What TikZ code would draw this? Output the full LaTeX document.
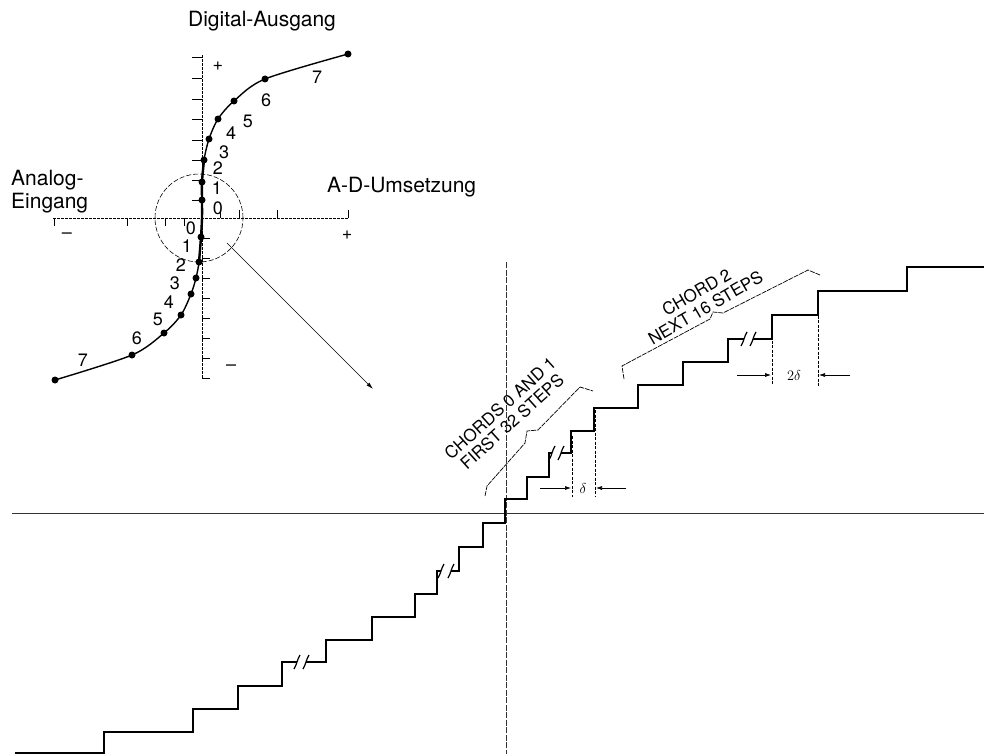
\documentclass[tikz,border=0pt]{standalone}
\usepackage{fontspec}
\setmainfont{TeX Gyre Heros}
\usetikzlibrary{arrows.meta}
\begin{document}
\begin{tikzpicture}[x=1pt,y=-1pt,
  stair/.style={line width=2.4pt, line join=miter},
  mainaxis/.style={line width=0.6pt, black!80},
  vaxis/.style={line width=0.6pt, black!80, dash pattern=on 6pt off 1.5pt},
  smallaxis/.style={line width=0.6pt, dash pattern=on 3pt off 1pt},
  tick/.style={line width=0.7pt},
  dimline/.style={line width=0.6pt, dash pattern=on 3pt off 1.5pt},
  dimarrow/.style={line width=0.6pt, -{Latex[length=6pt,width=4pt]}},
  brk/.style={line width=1.2pt},
  bracket/.style={line width=0.7pt, dash pattern=on 5pt off 1pt},
  lbl/.style={font=\fontsize{21}{23}\selectfont, inner sep=0pt},
  sign/.style={font=\fontsize{18}{18}\selectfont, inner sep=0pt},
  num/.style={font=\fontsize{18}{18}\selectfont, inner sep=0pt},
  chordlbl/.style={font=\fontsize{17}{18}\selectfont, align=center, inner sep=0pt},
  dimlbl/.style={font=\fontsize{15}{15}\selectfont, inner sep=0pt},
  dot/.style={circle, fill, inner sep=0pt, minimum size=7pt},
]
\path[use as bounding box] (0,0) rectangle (984,754);

% ---------- main axes of the transfer characteristic ----------
\coordinate (hl) at (12,513);
\coordinate (hr) at (984,513);
\coordinate (vt) at (506,262);
\coordinate (vb) at (506,754);
\draw[mainaxis] (hl) -- (hr);
\draw[vaxis] (vt) -- (vb);

% ---------- staircase ----------
\draw[stair] (15,753) -| (104,732) -| (193,709) -| (238,686) -| (282,662) -- (297,662);
\draw[stair] (306,662) -| (326,640) -| (372,617) -| (415,594) -| (437,571) -- (441,571);
\draw[stair] (451,571) -| (459,547) -| (483,523) -| (505,499) -| (527,477) -| (549,453) -- (552,453);
\draw[stair] (561,453) -| (571,431) -| (594,408) -| (638,385) -| (683,362) -| (728,339) -- (744,339);
\draw[stair] (753,339) -| (772,315) -| (818,291) -| (907,267) -- (984,267);

% break marks
\foreach \x/\y in {297/662, 306/662, 441/571, 451/571, 552/453, 561/453, 744/339, 753/339}
  \draw[brk] (\x-3,\y+7) .. controls (\x,\y+2) and (\x,\y-2) .. (\x+3,\y-7);

% ---------- step width dimensions ----------
\coordinate (d1a) at (572,436);
\coordinate (d1b) at (572,497);
\coordinate (d2a) at (595,410);
\coordinate (d2b) at (595,497);
\draw[dimline] (d1a) -- (d1b);
\draw[dimline] (d2a) -- (d2b);
\coordinate (a1s) at (540,488);
\coordinate (a1e) at (571,488);
\coordinate (a2s) at (626,488);
\coordinate (a2e) at (596,488);
\draw[dimarrow] (a1s) -- (a1e);
\draw[dimarrow] (a2s) -- (a2e);
\node[dimlbl] (dl) at (583,488) {$\delta$};

\coordinate (e1a) at (772,318);
\coordinate (e1b) at (772,385);
\coordinate (e2a) at (818,293);
\coordinate (e2b) at (818,386);
\draw[dimline] (e1a) -- (e1b);
\draw[dimline] (e2a) -- (e2b);
\coordinate (b1s) at (737,375);
\coordinate (b1e) at (771,375);
\coordinate (b2s) at (850,375);
\coordinate (b2e) at (819,375);
\draw[dimarrow] (b1s) -- (b1e);
\draw[dimarrow] (b2s) -- (b2e);
\node[dimlbl] (dl2) at (794,375) {$2\delta$};

% ---------- chord brackets ----------
\draw[bracket] (485,496) -- (487,486) -- (525,443) -- (527,431) -- (538,430) -- (580,387) -- (593,391);
\node[chordlbl, rotate=42] (c01) at (506,415) {CHORDS 0 AND 1\\FIRST 32 STEPS};

\draw[bracket] (624,379) -- (622,366) -- (710,319) -- (713,312) -- (723,313) -- (808,270) -- (820,275);
\node[chordlbl, rotate=30] (c2) at (701,300) {CHORD 2\\NEXT 16 STEPS};

% ---------- companding characteristic (upper left) ----------
\coordinate (o) at (202,218);
\coordinate (xl) at (53,218);
\coordinate (xr) at (348,218);
\coordinate (yt) at (202,55);
\coordinate (yb) at (202,378);
\draw[smallaxis] (xl) -- (xr);
\draw[smallaxis] (yt) -- (yb);
\foreach \x in {54,127,165,184} \draw[tick] (\x,218) -- (\x,226);
\foreach \x in {220,239,277,348} \draw[tick] (\x,218) -- (\x,210);
\foreach \y in {57,78,99,119,140,160,180,200} \draw[tick] (192,\y) -- (202,\y);
\foreach \y in {238,258,278,298,318,338,358,378} \draw[tick] (202,\y) -- (210,\y);

\node[sign] (pu) at (218,66) {+};
\node[sign] (pr) at (347,235) {+};
\node[sign] (ml) at (67,236) {--};
\node[sign] (mb) at (231,368) {--};

% curve
\draw[line width=1.4pt] plot[smooth, tension=0.5] coordinates {(55,380) (132,355) (164,333) (181,315) (191,294) (196,278) (199,262) (201,237) (202,218) (202,200) (202,182) (204,160) (209,139) (218,119) (234,101) (265,79) (348,54)};
\draw[line width=2.4pt] plot[smooth, tension=0.5] coordinates {(199,262) (201,237) (202,218) (202,200) (202,182) (204,160)};

% segment end points
\foreach \n/\x/\y in {u0/202/200, u1/202/182, u2/204/160, u3/209/139, u4/218/119, u5/234/101, u6/265/79, u7/348/54,
                      l0/201/237, l1/199/262, l2/196/278, l3/191/294, l4/181/315, l5/164/333, l6/132/355, l7/55/380}
  \node[dot] (\n) at (\x,\y) {};

% segment numbers
\foreach \t/\x/\y in {0/218/208, 1/217/188, 2/218/168, 3/224/152, 4/231/133, 5/248/121, 6/266/100, 7/317/77}
  \node[num] at (\x,\y) {\t};
\foreach \t/\x/\y in {0/191/228, 1/187/246, 2/181/265, 3/175/283, 4/169/302, 5/158/319, 6/137/338, 7/83/360}
  \node[num] at (\x,\y) {\t};

% magnified region
\node[draw, circle, line width=0.6pt, dash pattern=on 5pt off 2pt, minimum size=88pt, inner sep=0pt] (zoomc) at (199,218) {};
\coordinate (zs) at (227,243);
\coordinate (ze) at (373,389);
\draw[line width=0.6pt, -{Latex[length=7pt,width=4pt]}] (zs) -- (ze);

% axis titles
\node[lbl] (dig) at (262,21) {Digital-Ausgang};
\node[lbl, anchor=north west, align=left] (ana) at (11,170) {Analog-\\Eingang};
\node[lbl, anchor=west] (adu) at (327,187) {A-D-Umsetzung};

\end{tikzpicture}
\end{document}
